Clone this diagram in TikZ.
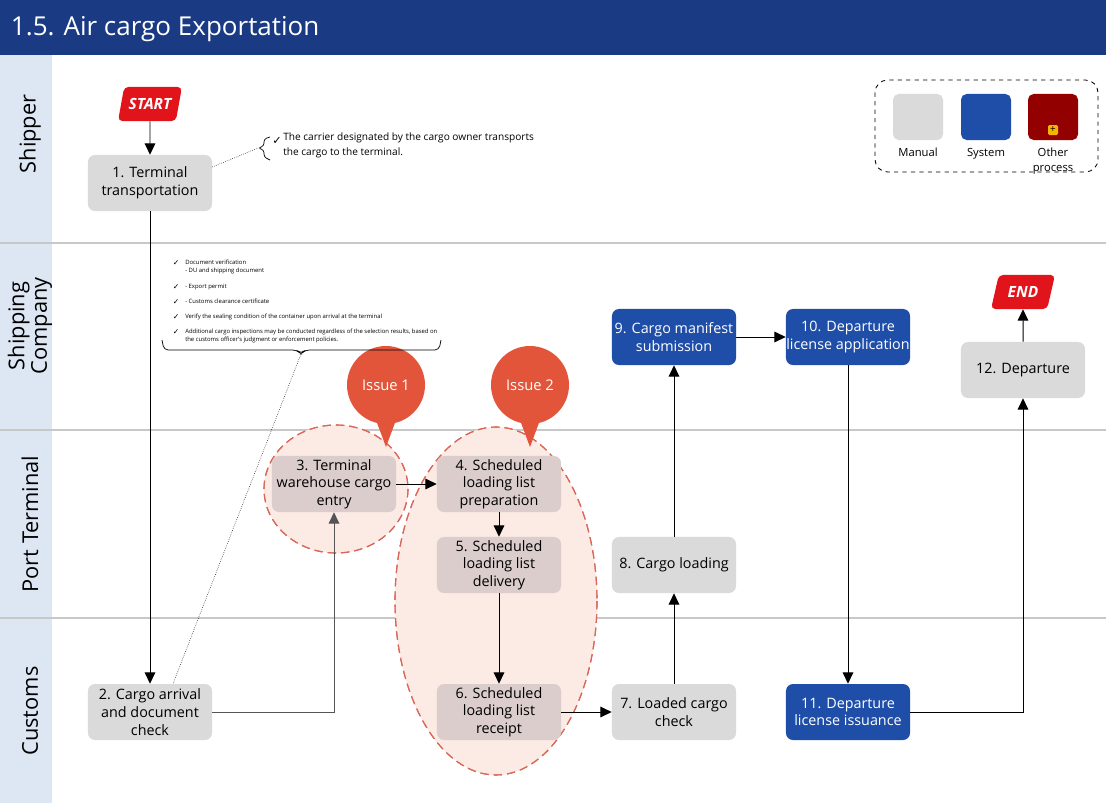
\documentclass[tikz,border=0pt]{standalone}
\usepackage{fontspec}
\setmainfont{Open Sans}
\newfontfamily\symfont{DejaVu Sans}
\usepackage{tikz}
\usetikzlibrary{shapes,arrows.meta,positioning,calc}
\definecolor{titleblue}{HTML}{1A3A84}
\definecolor{lanebg}{HTML}{DDE7F3}
\definecolor{laneline}{HTML}{C8C8C8}
\definecolor{manualgray}{HTML}{DADADA}
\definecolor{issuegray}{HTML}{DACDCB}
\definecolor{sysblue}{HTML}{1F4EA9}
\definecolor{startred}{HTML}{E1141C}
\definecolor{issuered}{HTML}{E2553B}
\definecolor{issuepink}{HTML}{FCEAE4}
\definecolor{zoneline}{HTML}{D9685A}
\definecolor{otherred}{HTML}{930000}
\definecolor{plusyellow}{HTML}{F5B400}
\definecolor{flowgray}{HTML}{555555}

\tikzset{
  manual/.style={rectangle, rounded corners=5pt, fill=manualgray, minimum width=3.1cm,
    minimum height=1.4cm, inner sep=0pt, align=center,
    font=\fontsize{10.2}{12.6}\selectfont},
  system/.style={manual, fill=sysblue, text=white},
  issuebox/.style={manual, fill=issuegray},
  terminal/.style={trapezium, trapezium left angle=66, trapezium right angle=114,
    trapezium stretches=true, minimum width=1.6cm, minimum height=0.85cm,
    rounded corners=3pt, fill=startred, text=white, inner sep=0pt,
    font=\fontsize{11}{12}\selectfont\bfseries\itshape},
  issue/.style={circle, fill=issuered, text=white, minimum size=1.95cm, inner sep=0pt,
    font=\fontsize{10.5}{12}\selectfont},
  issuezone/.style={fill=issuepink, draw=zoneline, dash pattern=on 6pt off 3.5pt, line width=0.8pt},
  lanelabel/.style={rotate=90, align=center, font=\fontsize{15.5}{16}\selectfont},
  flow/.style={->, line width=0.7pt},
  note/.style={align=left, inner sep=0pt, font=\fontsize{7.2}{10}\selectfont},
  smallnote/.style={align=left, inner sep=0pt, font=\fontsize{4.2}{5.6}\selectfont},
  swatch/.style={rectangle, rounded corners=4pt, minimum width=1.25cm, minimum height=1.15cm},
  legendtext/.style={font=\fontsize{8}{10.5}\selectfont, align=center, inner sep=0pt}
}

\begin{document}
\begin{tikzpicture}[x=0.025cm, y=-0.025cm, >={Triangle[length=8pt,width=7.5pt]}]
  \useasboundingbox (0,0) rectangle (1106,803);

  % Title bar and swim lanes
  \fill[titleblue] (0,0) rectangle (1106,55);
  \node[anchor=west, text=white, font=\fontsize{18.5}{20}\selectfont] (title) at (6,29) {1.5. Air cargo Exportation};
  \fill[lanebg] (0,55) rectangle (52,803);
  \foreach \y in {243,430,618}
    \draw[laneline, line width=1.2pt] (0,\y) -- (1106,\y);
  \node[lanelabel] (lshipper) at (30,134) {Shipper};
  \node[lanelabel] (lshipco) at (30,326) {Shipping\\Company};
  \node[lanelabel] (lport) at (30,524) {Port Terminal};
  \node[lanelabel] (lcustoms) at (30,711) {Customs};

  % Legend
  \draw[dashed, rounded corners=9pt, line width=0.6pt] (875,80) rectangle (1098,172);
  \node[swatch, fill=manualgray] (lgmanual) at (918,117) {};
  \node[swatch, fill=sysblue] (lgsystem) at (986,117) {};
  \node[swatch, fill=otherred] (lgother) at (1053,117) {};
  \node[fill=plusyellow, rounded corners=1pt, minimum size=0.25cm, inner sep=0pt,
    font=\fontsize{7}{7}\selectfont] (lgplus) at (1053,130) {+};
  \node[legendtext, anchor=base] (lgmanlbl) at (918,156) {Manual};
  \node[legendtext, anchor=base] (lgsyslbl) at (986,156) {System};
  \node[legendtext, anchor=base] (lgothlbl) at (1053,156) {Other};
  \node[legendtext, anchor=base] (lgothlbl2) at (1053,171) {process};

  % Issue zones
  \fill[issuezone] (336,489) ellipse [x radius=72, y radius=64];
  \fill[issuezone] (496,601) ellipse [x radius=101, y radius=174];
  \draw[issuezone, fill=none] (336,489) ellipse [x radius=72, y radius=64];
  \draw[issuezone, fill=none] (496,601) ellipse [x radius=101, y radius=174];

  % Process steps
  \node[terminal] (start) at (150,104) {START};
  \node[manual] (n1) at (150,183) {1. Terminal\\transportation};
  \node[manual] (n2) at (150,712) {2. Cargo arrival\\and document\\check};
  \node[issuebox] (n3) at (334,484) {3. Terminal\\warehouse cargo\\entry};
  \node[issuebox] (n4) at (499,484) {4. Scheduled\\loading list\\preparation};
  \node[issuebox] (n5) at (499,565) {5. Scheduled\\loading list\\delivery};
  \node[issuebox] (n6) at (499,712) {6. Scheduled\\loading list\\receipt};
  \node[manual] (n7) at (674,712) {7. Loaded cargo\\check};
  \node[manual] (n8) at (674,565) {8. Cargo loading};
  \node[system] (n9) at (674,337) {9. Cargo manifest\\submission};
  \node[system] (n10) at (848,337) {10. Departure\\license application};
  \node[system] (n11) at (848,712) {11. Departure\\license issuance};
  \node[manual] (n12) at (1023,370) {12. Departure};
  \node[terminal] (end) at (1023,292) {END};

  % Issue bubbles
  \fill[issuered] (373,412) -- (399,412) -- (386,447) -- cycle;
  \node[issue] (issue1) at (386,385) {Issue 1};
  \fill[issuered] (517,412) -- (543,412) -- (530,447) -- cycle;
  \node[issue] (issue2) at (530,385) {Issue 2};

  % Flow
  \draw[flow] (start) -- (n1);
  \draw[flow] (n1) -- (n2);
  \draw[flow, draw=flowgray] (n2) -| (n3);
  \draw[flow] (n3) -- (n4);
  \draw[flow] (n4) -- (n5);
  \draw[flow] (n5) -- (n6);
  \draw[flow] (n6) -- (n7);
  \draw[flow] (n7) -- (n8);
  \draw[flow] (n8) -- (n9);
  \draw[flow] (n9) -- (n10);
  \draw[flow] (n10) -- (n11);
  \draw[flow] (n11) -| (n12);
  \draw[flow] (n12) -- (end);

  % Note on step 1
  \coordinate (brace1) at (258,148);
  \draw[line width=0.5pt, rounded corners=2pt] (270,137) -- (264,139) -- (264,146) -- (brace1) -- (264,150) -- (264,157) -- (270,160);
  \node[inner sep=0pt, font=\symfont\fontsize{8}{8}\selectfont] (ck1) at (277,141) {✓};
  \node[note, anchor=north west] (note1) at (283,133) {The carrier designated by the cargo owner transports\\the cargo to the terminal.};
  \draw[densely dotted, line width=0.4pt] ($(n1.east)+(0,-16)$) -- (brace1);

  % Note on step 2
  \foreach \y/\txt [count=\i] in {263/{Document verification\\- DU and shipping document},
      287/{- Export permit}, 302/{- Customs clearance certificate},
      317/{Verify the sealing condition of the container upon arrival at the terminal},
      332/{Additional cargo inspections may be conducted regardless of the selection results, based on\\the customs officer's judgment or enforcement policies.}} {
    \node[inner sep=0pt, font=\symfont\fontsize{5.5}{5.5}\selectfont] (ck2\i) at (176,\y) {✓};
    \node[smallnote, anchor=north west] (item\i) at (185,\y-3.5) {\txt};
  }
  \coordinate (brace2) at (301,354);
  \draw[line width=0.5pt, rounded corners=3pt] (162,340) -- (164,350) -- (297,350) -- (brace2) -- (305,350) -- (439,350) -- (441,340);
  \draw[densely dotted, line width=0.4pt] (brace2) -- ($(n2.north)+(23,0)$);
\end{tikzpicture}
\end{document}
